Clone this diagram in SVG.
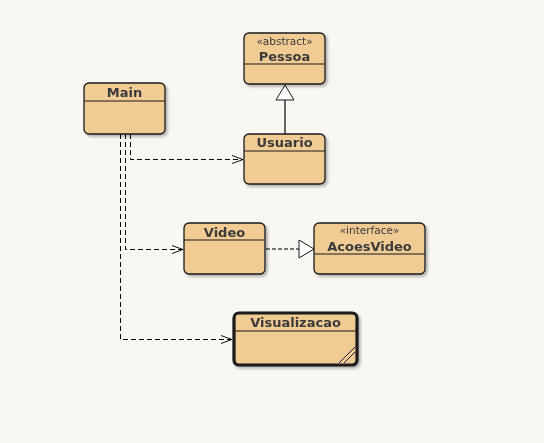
<svg xmlns="http://www.w3.org/2000/svg" width="544" height="443" viewBox="0 0 544 443">
<defs>
<filter id="sh" x="-20%" y="-20%" width="140%" height="140%">
<feGaussianBlur in="SourceAlpha" stdDeviation="1.5"/>
<feOffset dx="2" dy="2" result="b"/>
<feComponentTransfer><feFuncA type="linear" slope="0.3"/></feComponentTransfer>
<feMerge><feMergeNode/><feMergeNode in="SourceGraphic"/></feMerge>
</filter>
<marker id="open" markerWidth="12" markerHeight="10" refX="11" refY="5" orient="auto" markerUnits="userSpaceOnUse">
<path d="M0,1 L11,5 L0,9" fill="none" stroke="#111" stroke-width="1"/>
</marker>
</defs>
<style>
.box{fill:#f0cb94;stroke:#1a1a1a;stroke-width:1.3}
.thick{stroke-width:3.2}
.div{stroke:#1a1a1a;stroke-width:1.2}
.name{font-family:"DejaVu Sans",sans-serif;font-weight:bold;font-size:13px;fill:#3a3a3a;text-anchor:middle}
.st{font-family:"DejaVu Sans",sans-serif;font-size:10.5px;fill:#3a3a3a;text-anchor:middle}
.dep{fill:none;stroke:#000;stroke-width:1;stroke-dasharray:5,3}
</style>
<rect width="544" height="443" fill="#f8f7f2"/>
<g id="connectors">
<path class="dep" d="M130.5,134 V159.5 H243" marker-end="url(#open)"/>
<path class="dep" d="M125.5,134 V249.5 H183" marker-end="url(#open)"/>
<path class="dep" d="M120.5,134 V339.5 H232" marker-end="url(#open)"/>
<line x1="285" y1="100" x2="285" y2="134" stroke="#333" stroke-width="1.5"/>
<polygon points="285,85 276,100 294,100" fill="#fff" stroke="#1a1a1a" stroke-width="1"/>
<line x1="266" y1="249" x2="299" y2="249" stroke="#777" stroke-width="2" stroke-dasharray="4,2"/>
<polygon points="299,240 314,249 299,258" fill="#fff" stroke="#1a1a1a" stroke-width="1"/>
</g>
<g id="Pessoa" filter="url(#sh)">
<rect class="box" x="244" y="33" width="81" height="51" rx="5"/>
<line class="div" x1="244" y1="64" x2="325" y2="64"/>
<text class="st" x="284.5" y="45">«abstract»</text>
<text class="name" x="284.5" y="61">Pessoa</text>
</g>
<g id="Usuario" filter="url(#sh)">
<rect class="box" x="244" y="134" width="81" height="50" rx="5"/>
<line class="div" x1="244" y1="151" x2="325" y2="151"/>
<text class="name" x="284.5" y="147">Usuario</text>
</g>
<g id="Main" filter="url(#sh)">
<rect class="box" x="84" y="83" width="81" height="51" rx="5"/>
<line class="div" x1="84" y1="101" x2="165" y2="101"/>
<text class="name" x="124.5" y="97">Main</text>
</g>
<g id="Video" filter="url(#sh)">
<rect class="box" x="184" y="223" width="81" height="51" rx="5"/>
<line class="div" x1="184" y1="240" x2="265" y2="240"/>
<text class="name" x="224.5" y="237">Video</text>
</g>
<g id="AcoesVideo" filter="url(#sh)">
<rect class="box" x="314" y="223" width="111" height="51" rx="5"/>
<line class="div" x1="314" y1="254" x2="425" y2="254"/>
<text class="st" x="369.5" y="234">«interface»</text>
<text class="name" x="369.5" y="251">AcoesVideo</text>
</g>
<g id="Visualizacao" filter="url(#sh)">
<rect class="box thick" x="234" y="313" width="123" height="52" rx="5"/>
<line class="div" x1="234" y1="331" x2="357" y2="331"/>
<text class="name" x="295.5" y="327">Visualizacao</text>
<line x1="339" y1="363" x2="355" y2="347" stroke="#1a1a1a" stroke-width="1"/>
<line x1="344" y1="363" x2="355" y2="352" stroke="#1a1a1a" stroke-width="1"/>
</g>
</svg>
